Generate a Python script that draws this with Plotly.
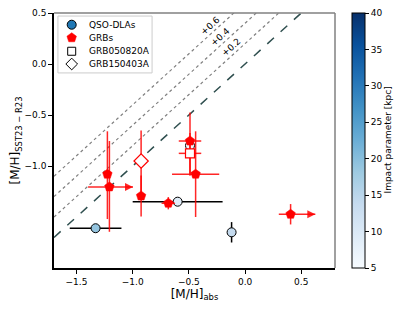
import plotly.graph_objects as go
import plotly.colors as pc

# ---------------- data ----------------
# QSO-DLAs
qso_x = [-1.33, -0.60, -0.12, -0.49]
qso_y = [-1.61, -1.35, -1.65, -0.80]
qso_xerr = [0.23, 0.40, 0.0, 0.0]
qso_yerr = [0.0, 0.0, 0.10, 0.0]
qso_impact = [19, 9, 14, 6]

# GRBs (pentagons)
grb_x = [-1.225, -1.207, -0.925, -0.683, -0.49, -0.44, 0.405]
grb_y = [-1.08, -1.205, -1.294, -1.365, -0.755, -1.08, -1.473]
grb_xerr_minus = [0.0, 0.19, 0.0, 0.06, 0.10, 0.21, 0.105]
grb_xerr_plus = [0.0, 0.21, 0.0, 0.06, 0.10, 0.21, 0.22]
grb_yerr_minus = [0.44, 0.44, 0.20, 0.06, 0.34, 0.42, 0.10]
grb_yerr_plus = [0.42, 0.45, 0.20, 0.06, 0.28, 0.42, 0.10]
grb_xlolim = [False, True, False, False, False, False, True]

# Individual GRBs
g050820_x, g050820_y = [-0.49], [-0.876]
g050820_xerr, g050820_yerr = [0.10], [0.20]
g150403_x, g150403_y = [-0.925], [-0.951]
g150403_yerr = [0.30]

# reference lines (offset from 1:1)
line_x = [-1.7, 0.8]
offsets = [0.2, 0.4, 0.6]
offset_labels = ["+0.2", "+0.4", "+0.6"]
offset_label_x = [-0.121, -0.224, -0.313]

x_ticks = [-1.5, -1.0, -0.5, 0.0, 0.5]
x_ticktext = ["\u22121.5", "\u22121.0", "\u22120.5", "0.0", "0.5"]
y_ticks = [0.5, 0.0, -0.5, -1.0]
y_ticktext = ["0.5", "0.0", "\u22120.5", "\u22121.0"]
cbar_ticks = [5, 10, 15, 20, 25, 30, 35, 40]

legend_names = ["QSO-DLAs", "GRBs", "GRB050820A", "GRB150403A"]

RED_ERR = "rgba(255,0,0,0.85)"
blues = pc.sequential.Blues

fig = go.Figure()

# dotted offset lines
for off in offsets:
    fig.add_trace(go.Scatter(x=line_x, y=[v + off for v in line_x], mode="lines",
                             line=dict(color="gray", width=1.2, dash="dot"),
                             showlegend=False, hoverinfo="skip"))
# 1:1 dashed line
fig.add_trace(go.Scatter(x=line_x, y=line_x, mode="lines",
                         line=dict(color="#2f4f4f", width=1.5, dash="dash"),
                         showlegend=False, hoverinfo="skip"))

# QSO-DLAs
fig.add_trace(go.Scatter(
    x=qso_x, y=qso_y, mode="markers", showlegend=False,
    error_x=dict(type="data", array=qso_xerr, color="black", thickness=1.5, width=0),
    error_y=dict(type="data", array=qso_yerr, color="black", thickness=1.5, width=0),
    marker=dict(symbol="circle", size=9, color=qso_impact, colorscale=blues,
                cmin=5, cmax=40, line=dict(color="black", width=1),
                showscale=True,
                colorbar=dict(x=1.0605, xanchor="left", xpad=0, ypad=0,
                              y=0.5, yanchor="middle", len=1, lenmode="fraction",
                              thickness=13, outlinecolor="black", outlinewidth=1,
                              tickvals=cbar_ticks, ticks="outside", ticklen=4,
                              tickcolor="black", tickfont=dict(size=9, color="black"))),
))

# GRBs
fig.add_trace(go.Scatter(
    x=grb_x, y=grb_y, mode="markers", showlegend=False,
    error_x=dict(type="data", symmetric=False, array=grb_xerr_plus,
                 arrayminus=grb_xerr_minus, color=RED_ERR, thickness=1.5, width=0),
    error_y=dict(type="data", symmetric=False, array=grb_yerr_plus,
                 arrayminus=grb_yerr_minus, color=RED_ERR, thickness=1.5, width=0),
    marker=dict(symbol="pentagon", size=10, color="red", line=dict(color="red", width=0.5)),
))

# lower-limit arrowheads at the end of the x error bar
lim_x = [xv + p for xv, p, lim in zip(grb_x, grb_xerr_plus, grb_xlolim) if lim]
lim_y = [yv for yv, lim in zip(grb_y, grb_xlolim) if lim]
fig.add_trace(go.Scatter(x=lim_x, y=lim_y, mode="markers", showlegend=False,
                         hoverinfo="skip",
                         marker=dict(symbol="arrow-right", size=8, color=RED_ERR,
                                     line=dict(width=0))))

# GRB050820A
fig.add_trace(go.Scatter(
    x=g050820_x, y=g050820_y, mode="markers", showlegend=False,
    error_x=dict(type="data", array=g050820_xerr, color=RED_ERR, thickness=1.5, width=0),
    error_y=dict(type="data", array=g050820_yerr, color=RED_ERR, thickness=1.5, width=0),
    marker=dict(symbol="square", size=9, color="white", line=dict(color="red", width=1.2)),
))
# GRB150403A
fig.add_trace(go.Scatter(
    x=g150403_x, y=g150403_y, mode="markers", showlegend=False,
    error_y=dict(type="data", array=g150403_yerr, color=RED_ERR, thickness=1.5, width=0),
    marker=dict(symbol="diamond", size=11, color="white", line=dict(color="red", width=1.2)),
))

# ---- manual legend (matplotlib-like, compact) ----
leg_marker_x = 0.063
leg_text_x = 0.118
leg_rows = [0.954, 0.903, 0.850, 0.800]
leg_styles = [
    dict(symbol="circle", size=9, color="#1f77b4", line=dict(color="black", width=1)),
    dict(symbol="pentagon", size=10, color="red", line=dict(color="red", width=0.5)),
    dict(symbol="square", size=8, color="white", line=dict(color="black", width=1)),
    dict(symbol="diamond", size=9, color="white", line=dict(color="black", width=1)),
]
fig.add_shape(type="rect", xref="paper", yref="paper", x0=0.014, x1=0.349,
              y0=0.765, y1=0.988, line=dict(color="#cccccc", width=1),
              fillcolor="white", layer="below")
for name, ry, st in zip(legend_names, leg_rows, leg_styles):
    fig.add_trace(go.Scatter(x=[leg_marker_x], y=[ry], mode="markers", marker=st,
                             showlegend=False, hoverinfo="skip",
                             xaxis="x2", yaxis="y2"))
    fig.add_annotation(x=leg_text_x, y=ry, xref="paper", yref="paper", text=name,
                       showarrow=False, xanchor="left", yanchor="middle",
                       font=dict(size=9, color="black"))

# offset labels
for lx, off, lab in zip(offset_label_x, offsets, offset_labels):
    fig.add_annotation(x=lx, y=lx + off + 0.09, text=lab, showarrow=False,
                       textangle=-42, font=dict(size=9, color="black"),
                       xref="x", yref="y")

# colorbar title
fig.add_annotation(x=1.21, y=0.5, xref="paper", yref="paper",
                   text="Impact parameter [kpc]", showarrow=False, textangle=-90,
                   font=dict(size=9, color="black"))

# top/right grey spines
fig.add_shape(type="line", xref="paper", yref="paper", x0=0, x1=1, y0=1, y1=1,
              line=dict(color="gray", width=1.5))
fig.add_shape(type="line", xref="paper", yref="paper", x0=1, x1=1, y0=0, y1=1,
              line=dict(color="gray", width=1.5))

# page body has an 8px default margin -> figure is 8px smaller and shifted
fig.update_layout(
    width=407, height=303,
    margin=dict(l=46, r=80, t=5, b=43, autoexpand=False),
    plot_bgcolor="rgba(0,0,0,0)", paper_bgcolor="white",
    font=dict(family="DejaVu Sans", color="black"),
    showlegend=False,
    xaxis=dict(range=[-1.7, 0.8], tickvals=x_ticks, ticktext=x_ticktext,
               showgrid=False, zeroline=False, showline=True, linecolor="black",
               linewidth=1.5, ticks="outside", ticklen=4, tickcolor="black",
               tickfont=dict(size=9),
               title=dict(text="[M/H]<sub>abs</sub>", font=dict(size=12), standoff=4)),
    yaxis=dict(range=[-2.0, 0.5], tickvals=y_ticks, ticktext=y_ticktext,
               showgrid=False, zeroline=False, showline=True, linecolor="black",
               linewidth=1.5, ticks="outside", ticklen=4, tickcolor="black",
               tickfont=dict(size=9),
               title=dict(text="[M/H]<sub>SST23 \u2212 R23</sub>", font=dict(size=12), standoff=6)),
    xaxis2=dict(overlaying="x", range=[0, 1], visible=False, fixedrange=True),
    yaxis2=dict(overlaying="y", range=[0, 1], visible=False, fixedrange=True),
)

fig.write_html("out.html")
